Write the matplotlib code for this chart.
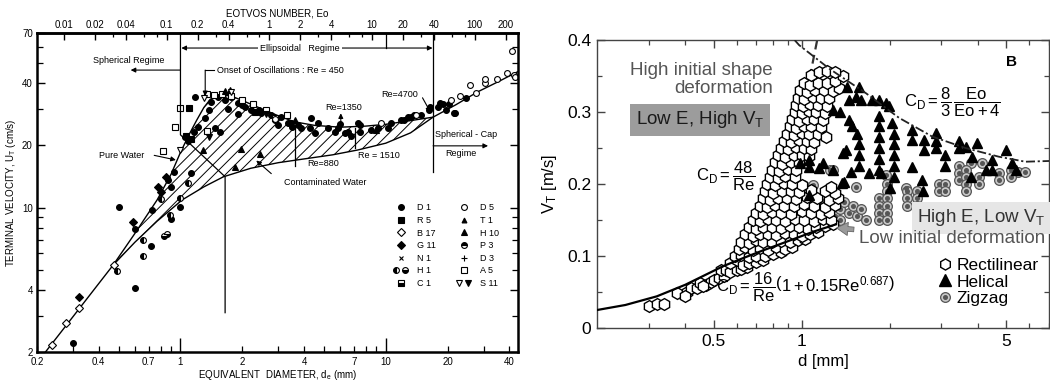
import numpy as np
import matplotlib
matplotlib.use('Agg')
import matplotlib.pyplot as plt
from matplotlib.lines import Line2D
from matplotlib.legend_handler import HandlerTuple
from matplotlib.ticker import FixedLocator, FixedFormatter, NullFormatter

plt.rcParams['font.family'] = ['Liberation Sans', 'DejaVu Sans']
plt.rcParams['mathtext.fontset'] = 'custom'
plt.rcParams['mathtext.rm'] = 'Liberation Sans'
plt.rcParams['mathtext.it'] = 'Liberation Sans:italic'
plt.rcParams['mathtext.bf'] = 'Liberation Sans:bold'
plt.rcParams['hatch.linewidth'] = 0.7

# ---------------- left panel data : d (mm), U (cm/s) ----------------
pure_d = [0.22, 0.30, 0.40, 0.47, 0.60, 0.77, 0.90, 1.0, 1.1, 1.2, 1.3, 1.4, 1.55, 1.75,
          2.0, 2.5, 3.0, 3.6, 4.5, 6.0, 8.0, 10.0, 13.0, 17.0, 22.0, 28.0, 35.0, 44.0]
pure_u = [2.0, 2.97, 4.29, 5.27, 7.5, 10.9, 14.5, 18.5, 22.5, 26.5, 30.5, 33.5, 35.0, 34.8,
          33.0, 30.0, 27.8, 26.0, 25.0, 24.5, 24.8, 25.3, 26.3, 27.4, 31.5, 36.3, 40.5, 45.5]
cont_d = [0.47, 0.60, 0.77, 1.02, 1.3, 1.62, 2.2, 3.0, 4.0, 5.5, 7.3, 10.0, 13.2, 17.0]
cont_u = [5.27, 6.8, 8.6, 10.9, 12.6, 14.1, 15.5, 16.5, 17.2, 18.0, 19.0, 20.5, 23.0, 27.4]

d1_d = [0.30, 0.50, 0.60, 0.60, 0.72, 0.73, 0.87, 0.90, 0.90, 0.93, 1.00, 1.05, 1.09, 1.13,
        1.16, 1.18, 1.22, 1.32, 1.37, 1.41, 1.47, 1.53, 1.56, 1.65, 1.70, 1.77, 1.90, 1.91,
        2.00, 2.06, 2.21, 2.40, 2.47, 2.77, 2.90, 2.99, 3.10, 3.34, 3.45, 3.50, 3.74, 3.87,
        4.26, 4.33, 4.51, 4.68, 5.23, 5.63, 5.85, 6.00, 6.32, 6.54, 6.76, 7.33, 7.45, 7.45,
        8.50, 9.14, 10.2, 10.6, 11.8, 12.3, 12.8, 13.2, 13.8, 14.8, 16.3, 16.5, 17.9, 18.3,
        18.9, 19.6, 20.4, 21.5, 21.8, 24.5]
d1_u = [2.2, 10.1, 4.1, 7.9, 6.5, 9.7, 13.6, 12.6, 8.8, 14.9, 10.1, 22.0, 21.0, 14.7,
        23.3, 34.4, 24.6, 27.0, 29.6, 32.5, 24.3, 34.4, 23.3, 33.1, 30.0, 34.4, 28.5, 32.0,
        31.5, 30.8, 29.6, 29.8, 28.6, 28.2, 26.5, 25.2, 27.6, 25.7, 25.7, 24.5, 25.2, 24.3,
        24.3, 27.0, 23.0, 25.7, 24.3, 23.3, 24.3, 25.5, 23.0, 23.3, 22.1, 25.7, 25.2, 23.3,
        23.8, 24.3, 24.3, 25.7, 26.4, 26.4, 27.5, 27.3, 28.1, 28.1, 29.6, 30.8, 30.8, 32.0,
        31.9, 29.6, 31.9, 28.6, 28.6, 33.8]
r5_d = [1.10, 1.06, 1.12, 2.30]
r5_u = [30.5, 22.3, 21.5, 29.0]
b17_d = [0.238, 0.277, 0.319, 0.473]
b17_u = [2.16, 2.76, 3.27, 5.27]
g11_d = [0.319, 0.59, 0.78, 0.80, 0.85]
g11_u = [3.71, 8.56, 12.6, 11.9, 14.1]
h1_d = [0.493, 0.654, 0.654, 0.80, 0.894, 0.99, 1.09]
h1_u = [4.94, 6.98, 5.83, 11.0, 9.2, 11.1, 13.2]
p3_d = [0.83, 0.86]
p3_u = [7.3, 7.45]
a5_d = [0.82, 0.94, 1.00, 1.34, 1.45, 1.60, 1.77, 2.00, 2.25, 2.60, 3.30, 1.34, 2.90]
a5_u = [18.7, 24.6, 30.5, 35.3, 35.2, 35.4, 34.8, 33.0, 31.8, 29.8, 28.0, 23.4, 27.2]
d5_d = [2.9, 9.5, 14.0, 20.7, 23.1, 25.8, 27.6, 30.6, 30.6, 34.8, 39.0, 41.2, 42.0, 42.8]
d5_u = [26.8, 25.6, 28.0, 33.0, 34.8, 39.2, 35.8, 40.3, 42.1, 42.0, 44.8, 57.4, 43.8, 43.0]
t_d = [1.29, 1.65, 1.75, 1.84, 1.98, 2.44, 3.60, 8.96]
t_u = [19.0, 36.5, 37.0, 15.8, 19.3, 18.2, 26.5, 23.8]
s11o_d = [1.0, 1.77, 1.30]
s11o_u = [19.1, 36.3, 34.0]
s11f_d = [1.37, 2.6]
s11f_u = [22.0, 28.4]

xb_ticks = [0.2, 0.3, 0.4, 0.5, 0.6, 0.7, 0.8, 0.9, 2, 3, 4, 5, 6, 7, 8, 9, 20, 30, 40]
xb_labels = ['0.2', '', '0.4', '', '', '0.7', '', '', '2', '', '4', '', '', '7', '', '', '20', '', '40']
yl_ticks = [2, 4, 10, 20, 40, 70]
yl_minor = [3, 5, 6, 7, 8, 9, 30, 50, 60]
eo_ticks = [0.01, 0.02, 0.04, 0.1, 0.2, 0.4, 1, 2, 4, 10, 20, 40, 100, 200]
eo_minor = [0.03, 0.06, 0.08, 0.3, 0.6, 0.8, 3, 6, 8, 30, 60, 80]

# ---------------- right panel data : d (mm), V (m/s) ----------------
sn_d = [0.2, 0.25, 0.32, 0.40, 0.47, 0.54, 0.63, 0.74, 0.85, 0.96, 1.1, 1.31]
sn_v = [0.025, 0.032, 0.044, 0.060, 0.074, 0.086, 0.097, 0.108, 0.117, 0.125, 0.134, 0.144]
st_d = [0.95, 1.0, 1.05, 1.09, 1.13]
st_v = [0.27, 0.30, 0.335, 0.368, 0.40]
eo_d = [0.946, 0.98, 1.245, 1.66, 2.15, 2.79, 3.63, 4.71, 5.81, 7.0]
eo_v = [0.40, 0.393, 0.36, 0.326, 0.292, 0.266, 0.25, 0.238, 0.231, 0.232]

hex_d = [0.30, 0.32, 0.34,
         0.375, 0.405, 0.42, 0.44, 0.40,
         0.45, 0.47, 0.49, 0.46,
         0.50, 0.52, 0.545, 0.53,
         0.55, 0.57, 0.60, 0.62, 0.65,
         0.57, 0.60, 0.63, 0.66, 0.70, 0.74,
         0.59, 0.62, 0.66, 0.70, 0.75, 0.80, 0.85,
         0.61, 0.64, 0.68, 0.72, 0.77, 0.82, 0.88, 0.93,
         0.62, 0.66, 0.70, 0.74, 0.79, 0.85, 0.91, 0.97, 1.03,
         0.64, 0.68, 0.72, 0.77, 0.82, 0.88, 0.94, 1.00, 1.07, 1.14,
         0.66, 0.70, 0.74, 0.79, 0.85, 0.91, 0.98, 1.05, 1.12, 1.20, 1.28,
         0.68, 0.72, 0.77, 0.82, 0.88, 0.95, 1.02, 1.10, 1.18, 1.26,
         0.70, 0.74, 0.79, 0.85, 0.92, 1.00, 1.08, 1.16, 1.24,
         0.72, 0.76, 0.81, 0.87, 0.94, 1.02, 1.10, 1.20, 1.30,
         0.74, 0.78, 0.83, 0.89, 0.96, 1.04, 1.13, 1.24, 1.33,
         0.75, 0.80, 0.86, 0.92, 0.98, 1.08, 1.20, 1.30,
         0.76, 0.81, 0.87, 0.93, 1.00, 1.26,
         0.78, 0.83, 0.88, 0.95,
         0.79, 0.84, 0.90, 0.96,
         0.81, 0.86, 0.92, 0.98,
         0.83, 0.88, 0.94, 1.00, 1.06,
         0.85, 0.90, 0.96, 1.02, 1.08,
         0.87, 0.92, 0.98, 1.04, 1.10,
         0.89, 0.94, 1.00, 1.06, 1.14, 1.21,
         0.91, 0.96, 1.02, 1.08, 1.16,
         0.93, 0.98, 1.04, 1.10, 1.18,
         0.95, 1.00, 1.06, 1.12, 1.20,
         0.96, 1.01, 1.07, 1.14, 1.22,
         0.97, 1.02, 1.09, 1.16, 1.24,
         0.99, 1.04, 1.11, 1.19, 1.28, 1.34,
         1.02, 1.07, 1.14, 1.22, 1.30, 1.38,
         1.08, 1.15, 1.22, 1.30]
hex_v = [0.030, 0.033, 0.033,
         0.048, 0.050, 0.055, 0.055, 0.045,
         0.062, 0.060, 0.064, 0.058,
         0.067, 0.070, 0.072, 0.080,
         0.080, 0.078, 0.080, 0.082, 0.085,
         0.090, 0.094, 0.088, 0.090, 0.092, 0.095,
         0.100, 0.102, 0.098, 0.100, 0.100, 0.103, 0.106,
         0.110, 0.112, 0.108, 0.111, 0.109, 0.112, 0.110, 0.113,
         0.120, 0.118, 0.122, 0.120, 0.119, 0.121, 0.120, 0.122, 0.123,
         0.130, 0.128, 0.131, 0.130, 0.129, 0.132, 0.130, 0.128, 0.131, 0.133,
         0.140, 0.138, 0.141, 0.140, 0.139, 0.142, 0.140, 0.138, 0.141, 0.142, 0.145,
         0.150, 0.148, 0.151, 0.150, 0.149, 0.152, 0.150, 0.148, 0.151, 0.150,
         0.160, 0.158, 0.161, 0.160, 0.159, 0.162, 0.160, 0.158, 0.161,
         0.170, 0.168, 0.171, 0.170, 0.169, 0.172, 0.170, 0.168, 0.171,
         0.180, 0.178, 0.181, 0.180, 0.179, 0.182, 0.180, 0.178, 0.181,
         0.190, 0.188, 0.191, 0.190, 0.189, 0.192, 0.190, 0.188,
         0.200, 0.198, 0.201, 0.200, 0.199, 0.196,
         0.210, 0.208, 0.211, 0.210,
         0.220, 0.218, 0.221, 0.220,
         0.230, 0.228, 0.231, 0.230,
         0.240, 0.238, 0.241, 0.240, 0.239,
         0.250, 0.248, 0.251, 0.250, 0.249,
         0.260, 0.258, 0.261, 0.260, 0.259,
         0.270, 0.268, 0.271, 0.270, 0.269, 0.266,
         0.280, 0.278, 0.281, 0.280, 0.279,
         0.290, 0.288, 0.291, 0.290, 0.289,
         0.300, 0.298, 0.301, 0.300, 0.299,
         0.310, 0.308, 0.311, 0.310, 0.309,
         0.320, 0.318, 0.321, 0.320, 0.319,
         0.330, 0.328, 0.331, 0.330, 0.329, 0.333,
         0.340, 0.338, 0.341, 0.340, 0.343, 0.350,
         0.352, 0.355, 0.357, 0.355]

tri_d = [1.43, 1.53, 1.575, 1.60, 1.456, 1.35, 1.456, 1.28, 1.49, 1.55,
         1.74, 1.84, 1.94, 1.99, 1.84, 2.04,
         1.84, 1.84, 1.84, 1.84, 1.84,
         2.07, 2.07, 2.07, 2.07, 2.07,
         1.575, 1.575, 1.575,
         1.42, 1.38, 1.18, 1.28, 1.06, 1.06, 0.985, 1.15, 1.48, 1.70, 1.87,
         2.39, 2.39, 2.62, 2.62, 2.87, 2.87, 2.87,
         3.10, 3.10, 3.45, 3.45, 3.63, 3.97, 3.81, 4.46, 4.97, 5.23, 5.38,
         2.39, 2.58, 2.60, 3.80, 4.25, 4.46,
         1.06, 1.37, 1.40, 2.00]
tri_v = [0.335, 0.321, 0.335, 0.317, 0.317, 0.300, 0.289, 0.303, 0.280, 0.270,
         0.317, 0.317, 0.312, 0.308, 0.294, 0.285,
         0.280, 0.265, 0.250, 0.235, 0.220,
         0.270, 0.255, 0.240, 0.225, 0.210,
         0.255, 0.240, 0.225,
         0.247, 0.243, 0.229, 0.219, 0.224, 0.233, 0.229, 0.222, 0.217, 0.215, 0.215,
         0.275, 0.261, 0.261, 0.247, 0.271, 0.260, 0.250,
         0.240, 0.225, 0.260, 0.250, 0.252, 0.257, 0.238, 0.233, 0.247, 0.229, 0.219,
         0.224, 0.206, 0.190, 0.210, 0.219, 0.219,
         0.185, 0.201, 0.203, 0.195]

zz_d = [1.01, 1.09, 1.245, 1.28, 1.53, 1.94, 2.27, 3.78, 5.50,
        0.96, 1.00, 1.04, 1.10, 1.12, 1.15, 1.20, 1.22, 1.25, 1.30, 1.35, 1.35, 1.40,
        1.45, 1.50, 1.55, 1.60, 1.66,
        1.84, 1.84, 1.84, 1.84,
        1.96, 1.96, 1.96, 1.96, 1.96, 1.96,
        2.29, 2.29, 2.29, 2.48, 2.48, 2.48,
        2.95, 2.95, 3.10, 3.10,
        3.45, 3.45, 3.45, 3.63, 3.63, 3.63, 3.63,
        4.03, 4.03, 4.13, 4.71, 4.71, 5.20, 5.20, 5.81]
zz_v = [0.199, 0.199, 0.219, 0.219, 0.196, 0.212, 0.194, 0.229, 0.217,
        0.150, 0.160, 0.170, 0.165, 0.145, 0.175, 0.160, 0.145, 0.170, 0.155, 0.165, 0.150, 0.175,
        0.160, 0.170, 0.155, 0.165, 0.150,
        0.180, 0.170, 0.160, 0.150,
        0.200, 0.190, 0.180, 0.170, 0.160, 0.150,
        0.190, 0.180, 0.170, 0.190, 0.180, 0.170,
        0.200, 0.190, 0.200, 0.190,
        0.225, 0.215, 0.205, 0.220, 0.210, 0.200, 0.190,
        0.210, 0.200, 0.229, 0.215, 0.205, 0.220, 0.210, 0.217]

xr_major = [0.5, 1, 5]
xr_minor = [0.3, 0.4, 0.6, 0.7, 0.8, 0.9, 2, 3, 4, 6, 7]
yr_major = [0, 0.1, 0.2, 0.3, 0.4]
yr_minor = [0.05, 0.15, 0.25, 0.35]

fig = plt.figure(figsize=(10.5, 3.85), dpi=100)

# ======================= LEFT PANEL =======================
ax1 = fig.add_axes([0.0352, 0.0857, 0.458, 0.8286])
ax1.set_xscale('log')
ax1.set_yscale('log')
ax1.set_xlim(0.2, 44)
ax1.set_ylim(2, 70)
fs = 6.5

band_d = [d for d in pure_d if d <= 17.0] + cont_d[::-1]
band_u = [u for d, u in zip(pure_d, pure_u) if d <= 17.0] + cont_u[::-1]
ax1.fill(band_d, band_u, facecolor='none', edgecolor='k', hatch='///', linewidth=0)
ax1.plot(pure_d, pure_u, 'k-', lw=1)
ax1.plot(cont_d, cont_u, 'k-', lw=1)

mk = dict(ls='none', ms=4.2, mew=0.8)
ax1.plot(d1_d, d1_u, marker='o', color='k', **mk)
ax1.plot(r5_d, r5_u, marker='s', color='k', **mk)
ax1.plot(b17_d, b17_u, marker='D', mfc='white', mec='k', **mk)
ax1.plot(g11_d, g11_u, marker='D', color='k', **mk)
ax1.plot(h1_d, h1_u, marker='o', color='k', fillstyle='left', mfc='k', mfcalt='white', **mk)
ax1.plot(p3_d, p3_u, marker='o', color='k', fillstyle='bottom', mfcalt='white', **mk)
ax1.plot(a5_d, a5_u, marker='s', mfc='white', mec='k', **mk)
ax1.plot(d5_d, d5_u, marker='o', mfc='white', mec='k', **mk)
ax1.plot(t_d, t_u, marker='^', color='k', **mk)
ax1.plot(s11o_d, s11o_u, marker='v', mfc='white', mec='k', **mk)
ax1.plot(s11f_d, s11f_u, marker='v', color='k', **mk)

# regime boundaries and labels
ax1.plot([1.0, 1.0, 1.65, 1.65], [70, 22.5, 14.1, 3.1], 'k-', lw=0.9)
ax1.plot([17.0, 17.0], [70, 14.9], 'k-', lw=0.9)
ax1.plot([10.0, 10.0], [70, 59.2], 'k-', lw=0.9)
arr = dict(arrowstyle='-|>', color='k', lw=0.8, mutation_scale=7, shrinkA=0, shrinkB=0)
ax1.annotate('', xy=(1.01, 59.2), xytext=(16.9, 59.2),
             arrowprops=dict(arrowstyle='<|-|>', color='k', lw=0.8, mutation_scale=7,
                             shrinkA=0, shrinkB=0))
ax1.text(3.83, 59.2, 'Ellipsoidal   Regime', fontsize=fs, ha='center', va='center',
         bbox=dict(boxstyle='square,pad=0.25', fc='white', ec='none'))
ax1.annotate('', xy=(0.572, 46.3), xytext=(1.0, 46.3), arrowprops=arr)
ax1.text(0.56, 51.8, 'Spherical Regime', fontsize=fs, ha='center', va='center')
ax1.plot([1.32, 1.45], [46.3, 46.3], 'k-', lw=0.8)
ax1.annotate('', xy=(1.32, 34.6), xytext=(1.32, 46.3), arrowprops=arr)
ax1.text(1.50, 46.3, 'Onset of Oscillations : Re = 450', fontsize=fs, ha='left', va='center')
ax1.text(6.25, 30.6, 'Re=1350', fontsize=fs, ha='center', va='center')
ax1.annotate('', xy=(6.04, 28.6), xytext=(6.04, 24.8), arrowprops=arr)
ax1.text(11.7, 35.3, 'Re=4700', fontsize=fs, ha='center', va='center')
ax1.annotate('', xy=(16.5, 29.0), xytext=(15.1, 34.0), arrowprops=arr)
ax1.plot([3.62, 3.62], [24.4, 15.9], 'k-', lw=0.9)
ax1.text(4.94, 16.4, 'Re=880', fontsize=fs, ha='center', va='center')
ax1.plot([7.07, 7.07], [24.3, 19.4], 'k-', lw=0.9)
ax1.text(9.25, 17.9, 'Re = 1510', fontsize=fs, ha='center', va='center')
ax1.text(0.517, 17.9, 'Pure Water', fontsize=fs, ha='center', va='center')
ax1.annotate('', xy=(0.95, 17.0), xytext=(0.745, 17.9), arrowprops=arr)
ax1.text(5.06, 13.3, 'Contaminated Water', fontsize=fs, ha='center', va='center')
ax1.annotate('', xy=(2.34, 16.9), xytext=(2.77, 14.6), arrowprops=arr)
ax1.text(17.3, 22.5, 'Spherical - Cap', fontsize=fs, ha='left', va='center')
ax1.text(19.5, 18.2, 'Regime', fontsize=fs, ha='left', va='center')
ax1.annotate('', xy=(31.5, 19.9), xytext=(17.0, 19.9), arrowprops=arr)

# legend of data sources
def mh(**kw):
    base = dict(ls='none', ms=4.2, mew=0.8, color='k')
    base.update(kw)
    return Line2D([], [], **base)

handles = [mh(marker='o'), mh(marker='s'), mh(marker='D', mfc='white'), mh(marker='D'),
           mh(marker='x', ms=3.5),
           (mh(marker='o', fillstyle='left', mfcalt='white'), mh(marker='o', fillstyle='bottom', mfcalt='white')),
           mh(marker='s', fillstyle='bottom', mfcalt='white'),
           mh(marker='o', mfc='white'), mh(marker='^', ms=3.5), mh(marker='^', ms=3.8),
           mh(marker='o', fillstyle='top', mfcalt='white'), mh(marker='+'), mh(marker='s', mfc='white'),
           (mh(marker='v', mfc='white'), mh(marker='v'))]
labels = ['D 1', 'R 5', 'B 17', 'G 11', 'N 1', 'H 1', 'C 1',
          'D 5', 'T 1', 'H 10', 'P 3', 'D 3', 'A 5', 'S 11']
ax1.legend(handles, labels, ncol=2, loc='upper left', bbox_to_anchor=(0.73, 0.48),
           frameon=False, fontsize=fs, handlelength=1.8, handletextpad=0.9,
           columnspacing=2.2, labelspacing=0.4, borderpad=0,
           handler_map={tuple: HandlerTuple(ndivide=None, pad=0.2)})

# axes styling
for s in ax1.spines.values():
    s.set_linewidth(1.8)
ax1.xaxis.set_major_locator(FixedLocator([1, 10]))
ax1.xaxis.set_major_formatter(FixedFormatter(['1', '10']))
ax1.xaxis.set_minor_locator(FixedLocator(xb_ticks))
ax1.xaxis.set_minor_formatter(FixedFormatter(xb_labels))
ax1.yaxis.set_major_locator(FixedLocator(yl_ticks))
ax1.yaxis.set_major_formatter(FixedFormatter([str(v) for v in yl_ticks]))
ax1.yaxis.set_minor_locator(FixedLocator(yl_minor))
ax1.yaxis.set_minor_formatter(NullFormatter())
ax1.tick_params(axis='x', which='major', direction='in', length=10, width=1, labelsize=7, pad=3.5)
ax1.tick_params(axis='x', which='minor', direction='in', length=4, width=0.9, labelsize=7, pad=3.5)
ax1.tick_params(axis='y', which='major', direction='in', length=6, width=1, labelsize=7, pad=3, right=True)
ax1.tick_params(axis='y', which='minor', direction='in', length=4, width=0.9, right=True)
ax1.set_xlabel(r'EQUIVALENT  DIAMETER, d$_\mathregular{e}$ (mm)', fontsize=7, labelpad=0.5)
ax1.set_ylabel(r'TERMINAL VELOCITY, U$_\mathregular{T}$ (cm/s)', fontsize=7, labelpad=3)

secax = ax1.secondary_xaxis('top', functions=(lambda d: 0.136 * np.asarray(d) ** 2,
                                               lambda e: np.sqrt(np.abs(np.asarray(e)) / 0.136)))
secax.xaxis.set_major_locator(FixedLocator(eo_ticks))
secax.xaxis.set_major_formatter(FixedFormatter([('%g' % v) for v in eo_ticks]))
secax.xaxis.set_minor_locator(FixedLocator(eo_minor))
secax.xaxis.set_minor_formatter(NullFormatter())
secax.tick_params(which='major', direction='in', length=5, width=1, labelsize=7, pad=2)
secax.tick_params(which='minor', direction='in', length=3, width=0.9)
secax.spines['top'].set_linewidth(1.8)
secax.set_xlabel('EOTVOS NUMBER, Eo', fontsize=7, labelpad=3)

# ======================= RIGHT PANEL =======================
ax2 = fig.add_axes([0.5686, 0.148, 0.4305, 0.748])
ax2.set_xscale('log')
ax2.set_xlim(0.2, 7)
ax2.set_ylim(0, 0.4)

ax2.plot(st_d, st_v, color='#333333', lw=1.6, ls=(0, (4, 2.5)), zorder=1)
ax2.plot(zz_d, zz_v, ls='none', marker='o', ms=7, mfc='#c8c8c8', mec='#555555', mew=0.9, zorder=2)
ax2.plot(zz_d, zz_v, ls='none', marker='o', ms=2.6, mfc='#555555', mec='#555555', zorder=2)
ax2.plot(hex_d, hex_v, ls='none', marker='h', ms=8.5, mfc='white', mec='black', mew=1.0, zorder=3)
ax2.plot(tri_d, tri_v, ls='none', marker='^', ms=7.5, color='black', zorder=4)
ax2.plot(sn_d, sn_v, color='black', lw=1.6, zorder=5)
ax2.plot(eo_d, eo_v, color='#222222', lw=1.3, ls=(0, (5, 1.5, 1.2, 1.5)), zorder=6)

fr = 13.5
ax2.text(0.797, 0.345, 'High initial shape\ndeformation', fontsize=fr, color='#555555',
         ha='right', va='center', multialignment='right', linespacing=1.1)
ax2.text(0.45, 0.289, r'Low E, High V$_\mathregular{T}$', fontsize=fr, color='#1a1a1a',
         ha='center', va='center',
         bbox=dict(boxstyle='square,pad=0.3', fc='#9c9c9c', ec='none'))
ax2.text(2.48, 0.153, r'High E, Low V$_\mathregular{T}$', fontsize=fr, color='#333333',
         ha='left', va='center', clip_on=False,
         bbox=dict(boxstyle='square,pad=0.3', fc='#e6e6e6', ec='none'))
ax2.annotate('Low initial deformation', xy=(1.316, 0.139), xytext=(1.575, 0.125),
             fontsize=13.5, color='#555555', ha='left', va='center', annotation_clip=False,
             arrowprops=dict(arrowstyle='simple,head_width=0.7,head_length=0.6,tail_width=0.25',
                             fc='#9a9a9a', ec='#666666', lw=0.6, shrinkA=2, shrinkB=0))
ax2.text(5.23, 0.369, 'B', fontsize=11, fontweight='bold', ha='center', va='center')
ax2.text(3.26, 0.314, r'$\mathrm{C_D=\dfrac{8}{3}\,\dfrac{Eo}{Eo+4}}$', fontsize=12,
         ha='center', va='center', zorder=7)
ax2.text(0.551, 0.21, r'$\mathrm{C_D=\dfrac{48}{Re}}$', fontsize=12, ha='center', va='center')
ax2.text(1.03, 0.056, r'$\mathrm{C_D=\dfrac{16}{Re}\left(1+0.15Re^{0.687}\right)}$', fontsize=12,
         ha='center', va='center', zorder=7)

hh = [Line2D([], [], ls='none', marker='h', ms=8, mfc='white', mec='black', mew=1.0),
      Line2D([], [], ls='none', marker='^', ms=8, color='black'),
      (Line2D([], [], ls='none', marker='o', ms=7, mfc='#c8c8c8', mec='#555555', mew=0.9),
       Line2D([], [], ls='none', marker='o', ms=2.6, color='#555555'))]
ax2.legend(hh, ['Rectilinear', 'Helical', 'Zigzag'], loc='upper left',
           bbox_to_anchor=(0.735, 0.275), frameon=False, fontsize=12.5, handlelength=0.8,
           handletextpad=0.25, labelspacing=0.1, borderpad=0,
           handler_map={tuple: HandlerTuple(ndivide=1)})

for s in ax2.spines.values():
    s.set_color('#444444')
    s.set_linewidth(1.0)
ax2.xaxis.set_major_locator(FixedLocator(xr_major))
ax2.xaxis.set_major_formatter(FixedFormatter(['0.5', '1', '5']))
ax2.xaxis.set_minor_locator(FixedLocator(xr_minor))
ax2.xaxis.set_minor_formatter(NullFormatter())
ax2.yaxis.set_major_locator(FixedLocator(yr_major))
ax2.yaxis.set_major_formatter(FixedFormatter(['0', '0.1', '0.2', '0.3', '0.4']))
ax2.yaxis.set_minor_locator(FixedLocator(yr_minor))
ax2.tick_params(which='major', direction='in', length=6, width=1, labelsize=12.5,
                top=True, right=True, color='#444444', pad=4)
ax2.tick_params(which='minor', direction='in', length=3.5, width=0.9,
                top=True, right=True, color='#444444')
ax2.set_xlabel('d [mm]', fontsize=12, labelpad=4)
ax2.set_ylabel(r'V$_\mathregular{T}$ [m/s]', fontsize=12, labelpad=6)

fig.savefig('out.png', dpi=100, facecolor='white')
